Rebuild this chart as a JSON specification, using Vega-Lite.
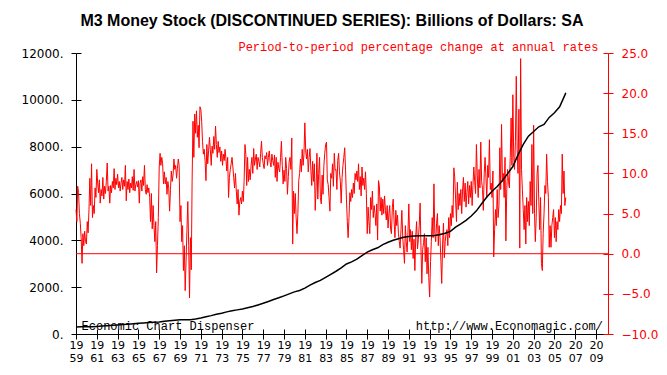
{
"$schema": "https://vega.github.io/schema/vega-lite/v6.json",
"width": 532, "height": 281,
"autosize": "none",
"padding": {"left": 76, "top": 53, "right": 59, "bottom": 41},
"background": "white",
"config": {"view": {"stroke": null}, "axis": {"grid": false}},
"title": {"text": "M3 Money Stock (DISCONTINUED SERIES): Billions of Dollars: SA", "font": "Liberation Sans", "fontSize": 16, "fontWeight": "bold", "color": "black", "anchor": "middle", "offset": 11, "dx": -10},
"datasets": {
"m3": [
{"t":"1959-01","v":300},{"t":"1959-07","v":305},{"t":"1960-01","v":306},{"t":"1960-07","v":313},{"t":"1961-01","v":325},{"t":"1961-07","v":340},{"t":"1962-01","v":355},{"t":"1962-07","v":370},{"t":"1963-01","v":388},{"t":"1963-07","v":404},{"t":"1964-01","v":420},{"t":"1964-07","v":437},{"t":"1965-01","v":455},{"t":"1965-07","v":474},{"t":"1966-01","v":492},{"t":"1966-07","v":505},{"t":"1967-01","v":512},{"t":"1967-07","v":540},{"t":"1968-01","v":562},{"t":"1968-07","v":585},{"t":"1969-01","v":605},{"t":"1969-07","v":612},{"t":"1970-01","v":610},{"t":"1970-07","v":640},{"t":"1971-01","v":680},{"t":"1971-07","v":735},{"t":"1972-01","v":785},{"t":"1972-07","v":840},{"t":"1973-01","v":890},{"t":"1973-07","v":945},{"t":"1974-01","v":990},{"t":"1974-07","v":1030},{"t":"1975-01","v":1065},{"t":"1975-07","v":1120},{"t":"1976-01","v":1175},{"t":"1976-07","v":1240},{"t":"1977-01","v":1310},{"t":"1977-07","v":1390},{"t":"1978-01","v":1470},{"t":"1978-07","v":1545},{"t":"1979-01","v":1630},{"t":"1979-07","v":1715},{"t":"1980-01","v":1800},{"t":"1980-07","v":1860},{"t":"1981-01","v":1960},{"t":"1981-07","v":2090},{"t":"1982-01","v":2200},{"t":"1982-07","v":2290},{"t":"1983-01","v":2420},{"t":"1983-07","v":2550},{"t":"1984-01","v":2680},{"t":"1984-07","v":2820},{"t":"1985-01","v":2990},{"t":"1985-07","v":3080},{"t":"1986-01","v":3200},{"t":"1986-07","v":3350},{"t":"1987-01","v":3500},{"t":"1987-07","v":3600},{"t":"1988-01","v":3680},{"t":"1988-07","v":3820},{"t":"1989-01","v":3920},{"t":"1989-07","v":4000},{"t":"1990-01","v":4070},{"t":"1990-07","v":4130},{"t":"1991-01","v":4160},{"t":"1991-07","v":4190},{"t":"1992-01","v":4200},{"t":"1992-07","v":4200},{"t":"1993-01","v":4200},{"t":"1993-07","v":4210},{"t":"1994-01","v":4250},{"t":"1994-07","v":4300},{"t":"1995-01","v":4380},{"t":"1995-07","v":4560},{"t":"1996-01","v":4700},{"t":"1996-07","v":4850},{"t":"1997-01","v":5040},{"t":"1997-07","v":5260},{"t":"1998-01","v":5560},{"t":"1998-07","v":5850},{"t":"1999-01","v":6100},{"t":"1999-07","v":6300},{"t":"2000-01","v":6550},{"t":"2000-07","v":6850},{"t":"2001-01","v":7150},{"t":"2001-07","v":7650},{"t":"2002-01","v":8100},{"t":"2002-07","v":8450},{"t":"2003-01","v":8650},{"t":"2003-07","v":8850},{"t":"2004-01","v":8950},{"t":"2004-07","v":9250},{"t":"2005-01","v":9450},{"t":"2005-07","v":9700},{"t":"2006-01","v":10200},{"t":"2006-02","v":10300}
],
"pct": [
{"t":"1959-01","g":5.5},{"t":"1959-02","g":4.0},{"t":"1959-03","g":8.4},{"t":"1959-04","g":7.6},{"t":"1959-05","g":5.0},{"t":"1959-06","g":3.8},{"t":"1959-07","g":2.0},{"t":"1959-08","g":-1.2},{"t":"1959-09","g":2.5},{"t":"1959-10","g":1.0},{"t":"1959-11","g":2.8},{"t":"1959-12","g":1.5},
{"t":"1960-01","g":1.2},{"t":"1960-02","g":4.0},{"t":"1960-03","g":2.6},{"t":"1960-04","g":5.5},{"t":"1960-05","g":9.4},{"t":"1960-06","g":6.0},{"t":"1960-07","g":11.2},{"t":"1960-08","g":4.5},{"t":"1960-09","g":6.0},{"t":"1960-10","g":5.0},{"t":"1960-11","g":8.2},{"t":"1960-12","g":7.0},
{"t":"1961-01","g":10.5},{"t":"1961-02","g":8.8},{"t":"1961-03","g":7.6},{"t":"1961-04","g":9.2},{"t":"1961-05","g":6.3},{"t":"1961-06","g":8.0},{"t":"1961-07","g":7.2},{"t":"1961-08","g":9.5},{"t":"1961-09","g":6.8},{"t":"1961-10","g":8.4},{"t":"1961-11","g":7.5},{"t":"1961-12","g":9.0},
{"t":"1962-01","g":11.3},{"t":"1962-02","g":7.8},{"t":"1962-03","g":8.4},{"t":"1962-04","g":6.3},{"t":"1962-05","g":8.5},{"t":"1962-06","g":7.6},{"t":"1962-07","g":9.0},{"t":"1962-08","g":8.2},{"t":"1962-09","g":10.6},{"t":"1962-10","g":8.0},{"t":"1962-11","g":9.4},{"t":"1962-12","g":8.6},
{"t":"1963-01","g":9.9},{"t":"1963-02","g":8.2},{"t":"1963-03","g":9.0},{"t":"1963-04","g":7.8},{"t":"1963-05","g":8.8},{"t":"1963-06","g":9.5},{"t":"1963-07","g":8.0},{"t":"1963-08","g":9.2},{"t":"1963-09","g":8.4},{"t":"1963-10","g":11.0},{"t":"1963-11","g":6.6},{"t":"1963-12","g":9.0},
{"t":"1964-01","g":8.0},{"t":"1964-02","g":9.3},{"t":"1964-03","g":7.6},{"t":"1964-04","g":8.8},{"t":"1964-05","g":8.2},{"t":"1964-06","g":9.6},{"t":"1964-07","g":7.9},{"t":"1964-08","g":10.5},{"t":"1964-09","g":7.8},{"t":"1964-10","g":8.6},{"t":"1964-11","g":9.0},{"t":"1964-12","g":8.3},
{"t":"1965-01","g":9.1},{"t":"1965-02","g":6.3},{"t":"1965-03","g":8.8},{"t":"1965-04","g":9.2},{"t":"1965-05","g":7.8},{"t":"1965-06","g":9.6},{"t":"1965-07","g":8.5},{"t":"1965-08","g":11.0},{"t":"1965-09","g":8.0},{"t":"1965-10","g":7.4},{"t":"1965-11","g":8.6},{"t":"1965-12","g":7.6},
{"t":"1966-01","g":8.2},{"t":"1966-02","g":7.0},{"t":"1966-03","g":4.0},{"t":"1966-04","g":7.5},{"t":"1966-05","g":3.1},{"t":"1966-06","g":6.0},{"t":"1966-07","g":3.5},{"t":"1966-08","g":1.5},{"t":"1966-09","g":4.0},{"t":"1966-10","g":-2.4},{"t":"1966-11","g":1.0},{"t":"1966-12","g":4.5},
{"t":"1967-01","g":10.8},{"t":"1967-02","g":12.5},{"t":"1967-03","g":11.0},{"t":"1967-04","g":12.0},{"t":"1967-05","g":11.2},{"t":"1967-06","g":8.7},{"t":"1967-07","g":10.2},{"t":"1967-08","g":8.7},{"t":"1967-09","g":9.5},{"t":"1967-10","g":7.4},{"t":"1967-11","g":9.0},{"t":"1967-12","g":8.2},
{"t":"1968-01","g":5.3},{"t":"1968-02","g":8.0},{"t":"1968-03","g":10.3},{"t":"1968-04","g":9.0},{"t":"1968-05","g":9.8},{"t":"1968-06","g":11.8},{"t":"1968-07","g":10.5},{"t":"1968-08","g":11.0},{"t":"1968-09","g":9.4},{"t":"1968-10","g":10.6},{"t":"1968-11","g":11.8},{"t":"1968-12","g":11.0},
{"t":"1969-01","g":4.0},{"t":"1969-02","g":6.0},{"t":"1969-03","g":1.5},{"t":"1969-04","g":3.5},{"t":"1969-05","g":-2.1},{"t":"1969-06","g":1.0},{"t":"1969-07","g":-4.6},{"t":"1969-08","g":-1.0},{"t":"1969-09","g":3.0},{"t":"1969-10","g":6.5},{"t":"1969-11","g":1.0},{"t":"1969-12","g":-5.5},
{"t":"1970-01","g":2.0},{"t":"1970-02","g":-2.0},{"t":"1970-03","g":9.0},{"t":"1970-04","g":16.5},{"t":"1970-05","g":12.0},{"t":"1970-06","g":17.4},{"t":"1970-07","g":15.0},{"t":"1970-08","g":17.8},{"t":"1970-09","g":14.5},{"t":"1970-10","g":16.0},{"t":"1970-11","g":13.2},{"t":"1970-12","g":18.3},
{"t":"1971-01","g":18.0},{"t":"1971-02","g":16.5},{"t":"1971-03","g":14.0},{"t":"1971-04","g":12.4},{"t":"1971-05","g":13.0},{"t":"1971-06","g":11.5},{"t":"1971-07","g":9.1},{"t":"1971-08","g":13.6},{"t":"1971-09","g":11.2},{"t":"1971-10","g":12.8},{"t":"1971-11","g":14.5},{"t":"1971-12","g":13.0},
{"t":"1972-01","g":11.0},{"t":"1972-02","g":13.4},{"t":"1972-03","g":12.5},{"t":"1972-04","g":14.6},{"t":"1972-05","g":13.0},{"t":"1972-06","g":15.9},{"t":"1972-07","g":13.6},{"t":"1972-08","g":12.0},{"t":"1972-09","g":14.0},{"t":"1972-10","g":12.6},{"t":"1972-11","g":13.3},{"t":"1972-12","g":11.5},
{"t":"1973-01","g":12.8},{"t":"1973-02","g":11.0},{"t":"1973-03","g":12.4},{"t":"1973-04","g":11.6},{"t":"1973-05","g":13.0},{"t":"1973-06","g":11.8},{"t":"1973-07","g":10.3},{"t":"1973-08","g":12.0},{"t":"1973-09","g":7.0},{"t":"1973-10","g":9.5},{"t":"1973-11","g":10.5},{"t":"1973-12","g":11.2},
{"t":"1974-01","g":12.0},{"t":"1974-02","g":10.8},{"t":"1974-03","g":9.5},{"t":"1974-04","g":8.2},{"t":"1974-05","g":10.0},{"t":"1974-06","g":7.8},{"t":"1974-07","g":6.2},{"t":"1974-08","g":8.0},{"t":"1974-09","g":4.8},{"t":"1974-10","g":6.5},{"t":"1974-11","g":7.0},{"t":"1974-12","g":6.2},
{"t":"1975-01","g":7.8},{"t":"1975-02","g":6.5},{"t":"1975-03","g":9.0},{"t":"1975-04","g":13.6},{"t":"1975-05","g":12.4},{"t":"1975-06","g":8.5},{"t":"1975-07","g":12.0},{"t":"1975-08","g":9.0},{"t":"1975-09","g":10.5},{"t":"1975-10","g":9.2},{"t":"1975-11","g":11.0},{"t":"1975-12","g":12.0},
{"t":"1976-01","g":10.0},{"t":"1976-02","g":13.1},{"t":"1976-03","g":11.0},{"t":"1976-04","g":11.8},{"t":"1976-05","g":12.4},{"t":"1976-06","g":10.5},{"t":"1976-07","g":12.0},{"t":"1976-08","g":11.5},{"t":"1976-09","g":10.8},{"t":"1976-10","g":12.5},{"t":"1976-11","g":14.0},{"t":"1976-12","g":12.0},
{"t":"1977-01","g":11.2},{"t":"1977-02","g":10.6},{"t":"1977-03","g":12.2},{"t":"1977-04","g":11.8},{"t":"1977-05","g":12.6},{"t":"1977-06","g":11.0},{"t":"1977-07","g":12.0},{"t":"1977-08","g":12.8},{"t":"1977-09","g":11.4},{"t":"1977-10","g":10.8},{"t":"1977-11","g":12.4},{"t":"1977-12","g":11.6},
{"t":"1978-01","g":11.0},{"t":"1978-02","g":12.3},{"t":"1978-03","g":9.5},{"t":"1978-04","g":12.0},{"t":"1978-05","g":9.0},{"t":"1978-06","g":11.4},{"t":"1978-07","g":10.6},{"t":"1978-08","g":10.2},{"t":"1978-09","g":12.0},{"t":"1978-10","g":14.0},{"t":"1978-11","g":11.0},{"t":"1978-12","g":8.7},
{"t":"1979-01","g":10.4},{"t":"1979-02","g":9.0},{"t":"1979-03","g":12.0},{"t":"1979-04","g":10.6},{"t":"1979-05","g":7.4},{"t":"1979-06","g":9.6},{"t":"1979-07","g":11.5},{"t":"1979-08","g":12.0},{"t":"1979-09","g":10.5},{"t":"1979-10","g":14.4},{"t":"1979-11","g":1.2},{"t":"1979-12","g":7.8},
{"t":"1980-01","g":5.0},{"t":"1980-02","g":7.5},{"t":"1980-03","g":4.5},{"t":"1980-04","g":2.5},{"t":"1980-05","g":5.0},{"t":"1980-06","g":9.1},{"t":"1980-07","g":10.0},{"t":"1980-08","g":11.8},{"t":"1980-09","g":10.2},{"t":"1980-10","g":13.0},{"t":"1980-11","g":11.0},{"t":"1980-12","g":12.4},
{"t":"1981-01","g":16.3},{"t":"1981-02","g":12.8},{"t":"1981-03","g":11.8},{"t":"1981-04","g":13.0},{"t":"1981-05","g":10.2},{"t":"1981-06","g":12.0},{"t":"1981-07","g":13.1},{"t":"1981-08","g":10.4},{"t":"1981-09","g":8.5},{"t":"1981-10","g":11.5},{"t":"1981-11","g":9.0},{"t":"1981-12","g":11.2},
{"t":"1982-01","g":5.4},{"t":"1982-02","g":8.4},{"t":"1982-03","g":12.5},{"t":"1982-04","g":6.8},{"t":"1982-05","g":10.0},{"t":"1982-06","g":12.0},{"t":"1982-07","g":7.0},{"t":"1982-08","g":6.2},{"t":"1982-09","g":9.8},{"t":"1982-10","g":7.4},{"t":"1982-11","g":11.0},{"t":"1982-12","g":12.5},
{"t":"1983-01","g":13.6},{"t":"1983-02","g":13.9},{"t":"1983-03","g":9.2},{"t":"1983-04","g":8.6},{"t":"1983-05","g":7.0},{"t":"1983-06","g":5.3},{"t":"1983-07","g":10.0},{"t":"1983-08","g":9.4},{"t":"1983-09","g":11.2},{"t":"1983-10","g":8.4},{"t":"1983-11","g":12.5},{"t":"1983-12","g":10.4},
{"t":"1984-01","g":10.5},{"t":"1984-02","g":8.0},{"t":"1984-03","g":11.6},{"t":"1984-04","g":12.5},{"t":"1984-05","g":10.2},{"t":"1984-06","g":9.0},{"t":"1984-07","g":6.3},{"t":"1984-08","g":9.5},{"t":"1984-09","g":11.0},{"t":"1984-10","g":12.0},{"t":"1984-11","g":13.2},{"t":"1984-12","g":10.4},
{"t":"1985-01","g":6.8},{"t":"1985-02","g":4.0},{"t":"1985-03","g":2.0},{"t":"1985-04","g":4.5},{"t":"1985-05","g":7.6},{"t":"1985-06","g":6.5},{"t":"1985-07","g":8.0},{"t":"1985-08","g":7.0},{"t":"1985-09","g":8.8},{"t":"1985-10","g":7.5},{"t":"1985-11","g":10.0},{"t":"1985-12","g":9.2},
{"t":"1986-01","g":10.3},{"t":"1986-02","g":9.0},{"t":"1986-03","g":11.2},{"t":"1986-04","g":8.0},{"t":"1986-05","g":9.6},{"t":"1986-06","g":7.2},{"t":"1986-07","g":10.8},{"t":"1986-08","g":8.5},{"t":"1986-09","g":9.4},{"t":"1986-10","g":8.0},{"t":"1986-11","g":10.2},{"t":"1986-12","g":7.5},
{"t":"1987-01","g":2.5},{"t":"1987-02","g":5.8},{"t":"1987-03","g":4.0},{"t":"1987-04","g":2.5},{"t":"1987-05","g":7.0},{"t":"1987-06","g":5.5},{"t":"1987-07","g":7.8},{"t":"1987-08","g":4.5},{"t":"1987-09","g":6.0},{"t":"1987-10","g":5.0},{"t":"1987-11","g":3.5},{"t":"1987-12","g":6.2},
{"t":"1988-01","g":1.7},{"t":"1988-02","g":9.1},{"t":"1988-03","g":8.5},{"t":"1988-04","g":5.3},{"t":"1988-05","g":7.0},{"t":"1988-06","g":4.8},{"t":"1988-07","g":6.8},{"t":"1988-08","g":5.0},{"t":"1988-09","g":7.2},{"t":"1988-10","g":5.4},{"t":"1988-11","g":4.2},{"t":"1988-12","g":6.0},
{"t":"1989-01","g":3.2},{"t":"1989-02","g":5.0},{"t":"1989-03","g":6.0},{"t":"1989-04","g":3.0},{"t":"1989-05","g":2.5},{"t":"1989-06","g":5.8},{"t":"1989-07","g":6.8},{"t":"1989-08","g":4.0},{"t":"1989-09","g":2.0},{"t":"1989-10","g":5.4},{"t":"1989-11","g":3.5},{"t":"1989-12","g":4.8},
{"t":"1990-01","g":2.5},{"t":"1990-02","g":1.5},{"t":"1990-03","g":0.7},{"t":"1990-04","g":3.0},{"t":"1990-05","g":5.4},{"t":"1990-06","g":2.0},{"t":"1990-07","g":0.5},{"t":"1990-08","g":-1.2},{"t":"1990-09","g":3.5},{"t":"1990-10","g":1.5},{"t":"1990-11","g":0.2},{"t":"1990-12","g":2.6},
{"t":"1991-01","g":6.2},{"t":"1991-02","g":1.5},{"t":"1991-03","g":3.0},{"t":"1991-04","g":0.5},{"t":"1991-05","g":2.8},{"t":"1991-06","g":-0.6},{"t":"1991-07","g":1.8},{"t":"1991-08","g":-2.1},{"t":"1991-09","g":2.2},{"t":"1991-10","g":4.0},{"t":"1991-11","g":0.6},{"t":"1991-12","g":1.8},
{"t":"1992-01","g":3.5},{"t":"1992-02","g":6.3},{"t":"1992-03","g":1.0},{"t":"1992-04","g":-3.7},{"t":"1992-05","g":0.5},{"t":"1992-06","g":1.4},{"t":"1992-07","g":2.5},{"t":"1992-08","g":-1.0},{"t":"1992-09","g":2.0},{"t":"1992-10","g":-2.5},{"t":"1992-11","g":0.8},{"t":"1992-12","g":-3.0},
{"t":"1993-01","g":-5.4},{"t":"1993-02","g":-1.0},{"t":"1993-03","g":1.5},{"t":"1993-04","g":4.5},{"t":"1993-05","g":2.0},{"t":"1993-06","g":8.7},{"t":"1993-07","g":2.5},{"t":"1993-08","g":1.5},{"t":"1993-09","g":3.8},{"t":"1993-10","g":5.0},{"t":"1993-11","g":1.0},{"t":"1993-12","g":3.5},
{"t":"1994-01","g":2.0},{"t":"1994-02","g":-1.0},{"t":"1994-03","g":-3.7},{"t":"1994-04","g":1.2},{"t":"1994-05","g":3.8},{"t":"1994-06","g":-0.5},{"t":"1994-07","g":1.5},{"t":"1994-08","g":2.5},{"t":"1994-09","g":3.0},{"t":"1994-10","g":1.0},{"t":"1994-11","g":4.5},{"t":"1994-12","g":2.0},
{"t":"1995-01","g":5.0},{"t":"1995-02","g":3.5},{"t":"1995-03","g":6.0},{"t":"1995-04","g":4.5},{"t":"1995-05","g":10.7},{"t":"1995-06","g":9.5},{"t":"1995-07","g":6.8},{"t":"1995-08","g":4.0},{"t":"1995-09","g":8.9},{"t":"1995-10","g":5.5},{"t":"1995-11","g":7.5},{"t":"1995-12","g":6.0},
{"t":"1996-01","g":8.0},{"t":"1996-02","g":5.0},{"t":"1996-03","g":7.8},{"t":"1996-04","g":9.5},{"t":"1996-05","g":6.5},{"t":"1996-06","g":8.8},{"t":"1996-07","g":5.8},{"t":"1996-08","g":7.6},{"t":"1996-09","g":9.0},{"t":"1996-10","g":6.2},{"t":"1996-11","g":8.5},{"t":"1996-12","g":7.0},
{"t":"1997-01","g":9.0},{"t":"1997-02","g":6.0},{"t":"1997-03","g":8.5},{"t":"1997-04","g":10.8},{"t":"1997-05","g":9.0},{"t":"1997-06","g":7.5},{"t":"1997-07","g":13.6},{"t":"1997-08","g":9.8},{"t":"1997-09","g":7.0},{"t":"1997-10","g":10.5},{"t":"1997-11","g":8.2},{"t":"1997-12","g":13.9},
{"t":"1998-01","g":9.0},{"t":"1998-02","g":8.0},{"t":"1998-03","g":5.4},{"t":"1998-04","g":10.0},{"t":"1998-05","g":12.0},{"t":"1998-06","g":9.5},{"t":"1998-07","g":7.0},{"t":"1998-08","g":11.0},{"t":"1998-09","g":9.5},{"t":"1998-10","g":14.2},{"t":"1998-11","g":8.0},{"t":"1998-12","g":8.8},
{"t":"1999-01","g":7.0},{"t":"1999-02","g":10.3},{"t":"1999-03","g":-0.4},{"t":"1999-04","g":3.0},{"t":"1999-05","g":5.5},{"t":"1999-06","g":3.5},{"t":"1999-07","g":8.0},{"t":"1999-08","g":4.5},{"t":"1999-09","g":6.0},{"t":"1999-10","g":13.2},{"t":"1999-11","g":8.0},{"t":"1999-12","g":16.1},
{"t":"2000-01","g":9.0},{"t":"2000-02","g":10.0},{"t":"2000-03","g":7.0},{"t":"2000-04","g":12.0},{"t":"2000-05","g":1.6},{"t":"2000-06","g":8.0},{"t":"2000-07","g":10.5},{"t":"2000-08","g":9.0},{"t":"2000-09","g":8.2},{"t":"2000-10","g":12.0},{"t":"2000-11","g":16.9},{"t":"2000-12","g":11.0},
{"t":"2001-01","g":19.8},{"t":"2001-02","g":12.0},{"t":"2001-03","g":10.5},{"t":"2001-04","g":14.0},{"t":"2001-05","g":22.1},{"t":"2001-06","g":13.0},{"t":"2001-07","g":10.0},{"t":"2001-08","g":18.0},{"t":"2001-09","g":0.7},{"t":"2001-10","g":24.3},{"t":"2001-11","g":10.5},{"t":"2001-12","g":8.0},
{"t":"2002-01","g":5.5},{"t":"2002-02","g":3.0},{"t":"2002-03","g":6.0},{"t":"2002-04","g":1.2},{"t":"2002-05","g":7.0},{"t":"2002-06","g":4.0},{"t":"2002-07","g":6.5},{"t":"2002-08","g":3.5},{"t":"2002-09","g":9.0},{"t":"2002-10","g":6.0},{"t":"2002-11","g":13.6},{"t":"2002-12","g":5.0},
{"t":"2003-01","g":16.0},{"t":"2003-02","g":5.0},{"t":"2003-03","g":1.5},{"t":"2003-04","g":4.5},{"t":"2003-05","g":10.0},{"t":"2003-06","g":11.0},{"t":"2003-07","g":6.5},{"t":"2003-08","g":3.0},{"t":"2003-09","g":7.0},{"t":"2003-10","g":-1.2},{"t":"2003-11","g":-2.1},{"t":"2003-12","g":2.5},
{"t":"2004-01","g":5.0},{"t":"2004-02","g":8.5},{"t":"2004-03","g":7.5},{"t":"2004-04","g":12.4},{"t":"2004-05","g":9.0},{"t":"2004-06","g":7.0},{"t":"2004-07","g":0.8},{"t":"2004-08","g":3.5},{"t":"2004-09","g":0.8},{"t":"2004-10","g":3.5},{"t":"2004-11","g":4.5},{"t":"2004-12","g":5.5},
{"t":"2005-01","g":2.0},{"t":"2005-02","g":4.5},{"t":"2005-03","g":1.5},{"t":"2005-04","g":4.0},{"t":"2005-05","g":3.0},{"t":"2005-06","g":5.5},{"t":"2005-07","g":4.0},{"t":"2005-08","g":6.0},{"t":"2005-09","g":5.0},{"t":"2005-10","g":12.4},{"t":"2005-11","g":7.5},{"t":"2005-12","g":10.3},
{"t":"2006-01","g":6.0},{"t":"2006-02","g":7.0}
]
},
"layer": [
{
"data": {"name": "pct"},
"mark": {"type": "line", "color": "#ff0000", "strokeWidth": 1},
"encoding": {
"x": {"field": "t", "type": "temporal",
"scale": {"domain": [-347155200000, 1266969600000]},
"axis": {"title": null, "orient": "bottom",
"values": [-347155200000, -283996800000, -220924800000, -157766400000, -94694400000, -31536000000, 31536000000, 94694400000, 157766400000, 220924800000, 283996800000, 347155200000, 410227200000, 473385600000, 536457600000, 599616000000, 662688000000, 725846400000, 788918400000, 852076800000, 915148800000, 978307200000, 1041379200000, 1104537600000, 1167609600000, 1230768000000],
"labelExpr": "substring(utcFormat(datum.value, '%Y'), 0, 2)",
"labelFont": "DejaVu Sans", "labelFontSize": 11, "labelColor": "black", "labelPadding": 0, "labelBaseline": "top",
"labelOverlap": false, "labelFlush": false,
"domainColor": "black", "tickColor": "black", "tickSize": 5}},
"y": {"field": "g", "type": "quantitative",
"scale": {"domain": [-10, 25], "nice": false, "zero": false},
"axis": {"orient": "right", "values": [-10, -5, 0, 5, 10, 15, 20, 25], "format": ".1f",
"labelFont": "DejaVu Sans", "labelFontSize": 12, "labelColor": "#ff0000", "labelPadding": 8,
"domainColor": "#ff0000", "tickColor": "#ff0000", "tickSize": 5,
"title": "Period-to-period percentage change at annual rates", "titleAngle": 0, "titleAlign": "right", "titleBaseline": "alphabetic", "titleX": -10, "titleY": -3,
"titleColor": "#ff0000", "titleFont": "Liberation Mono", "titleFontSize": 12, "titleFontWeight": "normal"}}
}
},
{
"data": {"values": [{"base": 0}]},
"mark": {"type": "rule", "color": "#ff0000", "strokeWidth": 1},
"encoding": {
"y": {"field": "base", "type": "quantitative", "scale": {"domain": [-10, 25], "nice": false, "zero": false},
"axis": {"orient": "right", "title": null, "values": [-10, -5, 0, 5, 10, 15, 20, 25], "labels": false, "domain": false, "tickColor": "#ff0000", "tickSize": -5}}}
},
{
"data": {"name": "m3"},
"mark": {"type": "line", "color": "black", "strokeWidth": 1.5},
"encoding": {
"x": {"field": "t", "type": "temporal",
"axis": {"title": null, "orient": "bottom",
"values": [-347155200000, -283996800000, -220924800000, -157766400000, -94694400000, -31536000000, 31536000000, 94694400000, 157766400000, 220924800000, 283996800000, 347155200000, 410227200000, 473385600000, 536457600000, 599616000000, 662688000000, 725846400000, 788918400000, 852076800000, 915148800000, 978307200000, 1041379200000, 1104537600000, 1167609600000, 1230768000000],
"labelExpr": "substring(utcFormat(datum.value, '%Y'), 2, 4)",
"labelFont": "DejaVu Sans", "labelFontSize": 11, "labelColor": "black", "labelPadding": 23, "labelBaseline": "top",
"labelOverlap": false, "labelFlush": false,
"domainColor": "black", "tickColor": "black", "tickSize": -5}},
"y": {"field": "v", "type": "quantitative",
"scale": {"domain": [0, 12000], "nice": false},
"axis": {"orient": "left", "title": null, "values": [0, 2000, 4000, 6000, 8000, 10000, 12000], "labelExpr": "datum.value + '.'",
"labelFont": "DejaVu Sans", "labelFontSize": 12, "labelColor": "black", "labelPadding": 8,
"domainColor": "black", "tickColor": "black", "tickSize": 5}}
}
},
{
"data": {"values": [{"label": "Economic Chart Dispenser", "d": "1959-07-15", "y0": 0}]},
"mark": {"type": "text", "align": "left", "baseline": "alphabetic", "dy": -4, "font": "Liberation Mono", "fontSize": 12, "color": "black"},
"encoding": {
"x": {"field": "d", "type": "temporal", "axis": null},
"y": {"field": "y0", "type": "quantitative", "scale": {"domain": [0, 12000], "nice": false},
"axis": {"orient": "left", "title": null, "values": [0, 2000, 4000, 6000, 8000, 10000, 12000], "labels": false, "domain": false, "tickColor": "black", "tickSize": -5}},
"text": {"field": "label"}
}
},
{
"data": {"values": [{"label": "http://www.Economagic.com/", "d": "2009-09-01", "y0": 0}]},
"mark": {"type": "text", "align": "right", "baseline": "alphabetic", "dy": -4, "font": "Liberation Mono", "fontSize": 12, "color": "black"},
"encoding": {
"x": {"field": "d", "type": "temporal", "axis": null},
"y": {"field": "y0", "type": "quantitative", "scale": {"domain": [0, 12000], "nice": false}, "axis": null},
"text": {"field": "label"}
}
}
],
"resolve": {"scale": {"y": "independent"}, "axis": {"x": "independent"}}
}
